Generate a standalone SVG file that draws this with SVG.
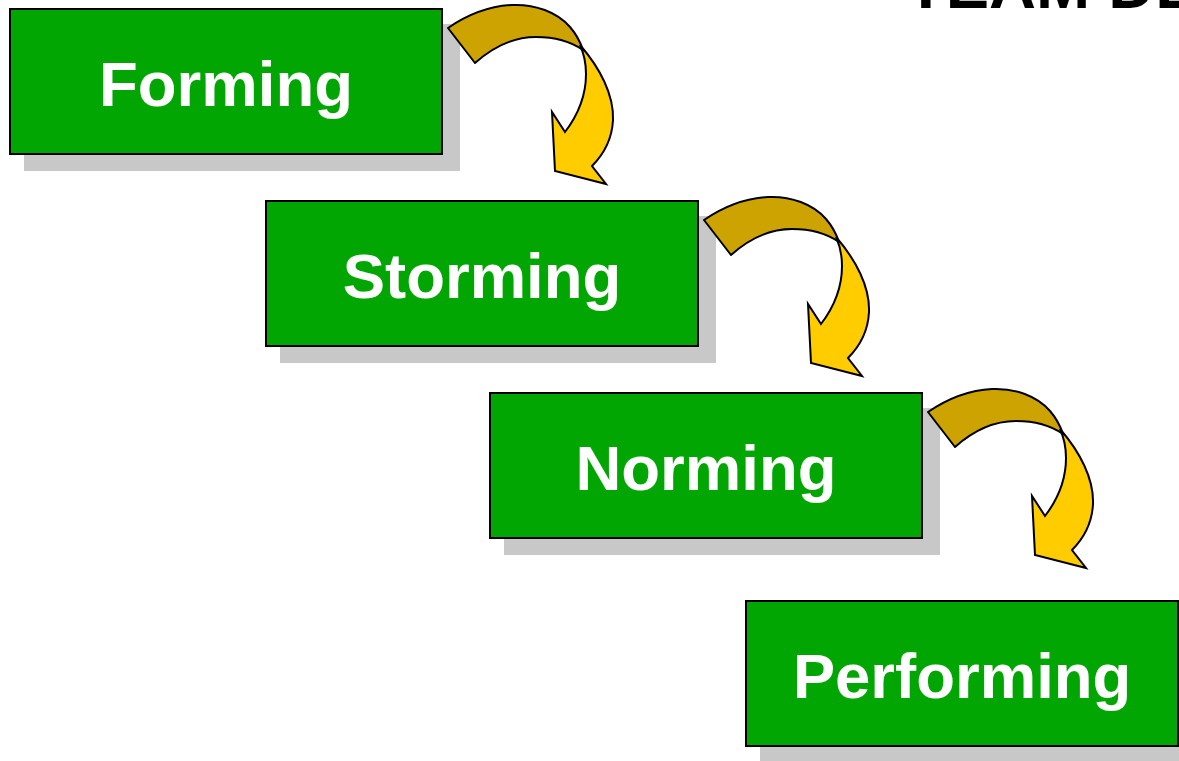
<svg xmlns="http://www.w3.org/2000/svg" xmlns:xlink="http://www.w3.org/1999/xlink" width="1179" height="761" viewBox="0 0 1179 761">
  <style>
    .shadow { fill: #c8c8c8; }
    .box { fill: #02a602; stroke: #000; stroke-width: 2; }
    .label { font-family: "Liberation Sans", Arial, sans-serif; font-weight: bold; font-size: 63.5px; fill: #fff; text-anchor: middle; }
    .title { font-family: "Liberation Sans", Arial, sans-serif; font-weight: bold; font-size: 65px; fill: #000; }
    .back { fill: #cca300; stroke: #000; stroke-width: 2; stroke-linejoin: round; }
    .front { fill: #ffcc00; stroke: #000; stroke-width: 2; stroke-linejoin: miter; }
  </style>
  <defs>
    <g id="curvedArrow">
      <path class="back" d="M448,28 C470,13 492,6 512,5 C535,4 557,12 570,27 C576,34 580,41 583,50 C570,41 553,37 536,37 C515,37 494,46 475,63 Z"/>
      <path class="front" d="M580,45 C600,68 614,95 613,120 C612,140 603,155 592,166 L606,184 L555,171 L552,112 L565,132 C578,115 586,95 586,74 C586,64 585,56 580,45 Z"/>
    </g>
  </defs>
  <rect width="1179" height="761" fill="#fff"/>
  <text class="title" x="906" y="8">TEAM DE</text>
  <g id="node-forming">
    <rect class="shadow" x="24" y="24" width="436" height="147"/>
    <rect class="box" x="10" y="9" width="432" height="145"/>
    <text class="label" x="226" y="106">Forming</text>
  </g>
  <g id="node-storming">
    <rect class="shadow" x="280" y="216" width="436" height="147"/>
    <rect class="box" x="266" y="201" width="432" height="145"/>
    <text class="label" x="482" y="298">Storming</text>
  </g>
  <g id="node-norming">
    <rect class="shadow" x="504" y="408" width="436" height="147"/>
    <rect class="box" x="490" y="393" width="432" height="145"/>
    <text class="label" x="706" y="490">Norming</text>
  </g>
  <g id="node-performing">
    <rect class="shadow" x="760" y="616" width="436" height="147"/>
    <rect class="box" x="746" y="601" width="432" height="145"/>
    <text class="label" x="962" y="698">Performing</text>
  </g>
  <g id="connectors">
    <use xlink:href="#curvedArrow"/>
    <use xlink:href="#curvedArrow" transform="translate(256,192)"/>
    <use xlink:href="#curvedArrow" transform="translate(480,384)"/>
  </g>
</svg>
